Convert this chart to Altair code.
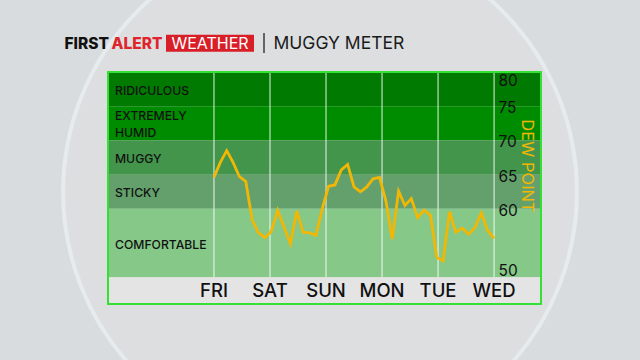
import altair as alt
import numpy as np
import pandas as pd

# ---------------- data ----------------
band_names = ["RIDICULOUS", "EXTREMELY\nHUMID", "MUGGY", "STICKY", "COMFORTABLE"]
band_low = [75, 70, 65, 60, 50]
band_high = [80, 75, 70, 65, 60]
band_colors = ["#007a00", "#008c00", "#43954b", "#63a06b", "#85c888"]

days = ["FRI", "SAT", "SUN", "MON", "TUE", "WED"]
day_hours = [0, 24, 48, 72, 96, 120]

dew_point = [64.6, 66.8, 68.5, 66.8, 64.7, 64.0, 58.4, 56.5, 55.8, 56.7,
             59.8, 57.4, 54.9, 59.7, 56.6, 56.5, 56.1, 60.0, 63.3, 63.5,
             65.7, 66.5, 63.2, 62.5, 63.2, 64.4, 64.6, 61.2, 55.6, 62.6,
             60.5, 61.5, 58.7, 59.8, 59.1, 52.9, 52.4, 59.6, 56.6, 57.2,
             56.3, 57.3, 59.4, 56.8, 55.7]
hours = list(np.linspace(0, 120, len(dew_point)))

y_ticks = [50, 60, 65, 70, 75, 80]

FONT = "Inter"
W, H = 433, 232

xscale = alt.Scale(domain=[-45.4, 140.1], nice=False, zero=False)
yscale = alt.Scale(domain=[46.1, 80], nice=False, zero=False)

bands = pd.DataFrame({"name": band_names, "low": band_low, "high": band_high,
                      "color": band_colors})
day_df = pd.DataFrame({"day": days, "hour": day_hours, "top": 80, "bottom": 50})
line_df = pd.DataFrame({"hour": hours, "dew": dew_point})
one = pd.DataFrame({"k": [0]})

# background lens circle
circle = alt.Chart(one).mark_point(
    shape="circle", filled=True, fill="#dcdee0", stroke="#e6ebed",
    strokeWidth=4, opacity=1, size=264000
).encode(x=alt.value(212), y=alt.value(120))

yaxis = alt.Axis(
    orient="right", values=y_ticks, offset=-43, ticks=False,
    domain=False, grid=False, labelFlush=False,
    labelBaseline={"condition": [
        {"test": "datum.value == 80", "value": "top"},
        {"test": "datum.value == 50", "value": "bottom"}],
        "value": "middle"},
    labelOffset=1.5,
    labelPadding=0, labelFont=FONT, labelFontSize=15.5,
    labelColor="#111111", title=None, zindex=2)

band_rects = alt.Chart(bands).mark_rect().encode(
    x=alt.value(0), x2=alt.value("width"),
    y=alt.Y("high:Q", scale=yscale, axis=yaxis), y2="low:Q",
    color=alt.Color("color:N", scale=None),
)

strip = alt.Chart(one).mark_rect(color="#e4e4e4").encode(
    x=alt.value(0), x2=alt.value("width"),
    y=alt.Y(datum=50, type="quantitative", scale=yscale),
    y2=alt.value("height"),
)

band_text = alt.Chart(bands).transform_calculate(
    nlines="length(split(datum.name, '\\n'))",
).transform_calculate(
    mid="(datum.low + datum.high) / 2 + (datum.nlines - 1) * 1.3 - 0.25",
).mark_text(align="left", baseline="middle", font=FONT, fontSize=12.2,
            fontWeight=500, color="#111111", lineBreak="\n", lineHeight=17
).encode(x=alt.value(7), y=alt.Y("mid:Q", scale=yscale), text="name:N")

day_rules = alt.Chart(day_df).mark_rule(color="#ffffff", opacity=0.75,
                                         strokeWidth=1.2).encode(
    x=alt.X("hour:Q", scale=xscale, axis=None),
    y=alt.Y("top:Q", scale=yscale), y2="bottom:Q",
)

day_text = alt.Chart(day_df).mark_text(
    font=FONT, fontSize=18.5, fontWeight=500, color="#111111",
    baseline="middle", align="center"
).encode(x=alt.X("hour:Q", scale=xscale, axis=None), y=alt.value(219), text="day:N")

line = alt.Chart(line_df).mark_line(color="#f2b705", strokeWidth=2.8,
                                     strokeJoin="miter").encode(
    x=alt.X("hour:Q", scale=xscale, axis=None),
    y=alt.Y("dew:Q", scale=yscale),
)

dew_label = alt.Chart(one).mark_text(
    text="DEW POINT", angle=90, font=FONT, fontSize=16.5, fontWeight=400,
    color="#f2b705", align="center", baseline="middle"
).encode(x=alt.value(419), y=alt.value(94))

border = alt.Chart(one).mark_rect(filled=False, stroke="#35e035",
                                  strokeWidth=2).encode(
    x=alt.value(0), x2=alt.value("width"), y=alt.value(0), y2=alt.value("height")
)

# header
first = alt.Chart(one).mark_text(text="FIRST", font=FONT, fontSize=15.5,
                                 fontWeight=800, color="#111111", align="left",
                                 baseline="middle").encode(
    x=alt.value(-43.5), y=alt.value(-28))
alert = alt.Chart(one).mark_text(text="ALERT", font=FONT, fontSize=15.5,
                                 fontWeight=800, color="#e0242b", align="left",
                                 baseline="middle").encode(
    x=alt.value(3.5), y=alt.value(-28))
red_box = alt.Chart(one).mark_rect(color="#d81e27").encode(
    x=alt.value(58), x2=alt.value(146), y=alt.value(-37.3), y2=alt.value(-20.3))
weather = alt.Chart(one).mark_text(text="WEATHER", font=FONT, fontSize=16,
                                   fontWeight=400, color="#ffffff", align="center",
                                   baseline="middle").encode(
    x=alt.value(102), y=alt.value(-28))
bar = alt.Chart(one).mark_rule(color="#222222", strokeWidth=1.3).encode(
    x=alt.value(156), y=alt.value(-39), y2=alt.value(-19))
muggy = alt.Chart(one).mark_text(text="MUGGY METER", font=FONT, fontSize=17.5,
                                 fontWeight=400, color="#1a1a1a", align="left",
                                 baseline="middle").encode(
    x=alt.value(165.5), y=alt.value(-28))

chart = alt.layer(
    circle, band_rects, strip, day_rules, band_text, day_text, line,
    dew_label, border, first, alert, red_box, weather, bar, muggy
).properties(
    width=W, height=H,
    background="#d9dcde",
    padding={"left": 108, "top": 72, "right": 99, "bottom": 56},
    autosize=alt.AutoSizeParams(type="none"),
).configure_view(stroke=None)

chart.save("out.html", embed_options={"renderer": "svg", "actions": False})
